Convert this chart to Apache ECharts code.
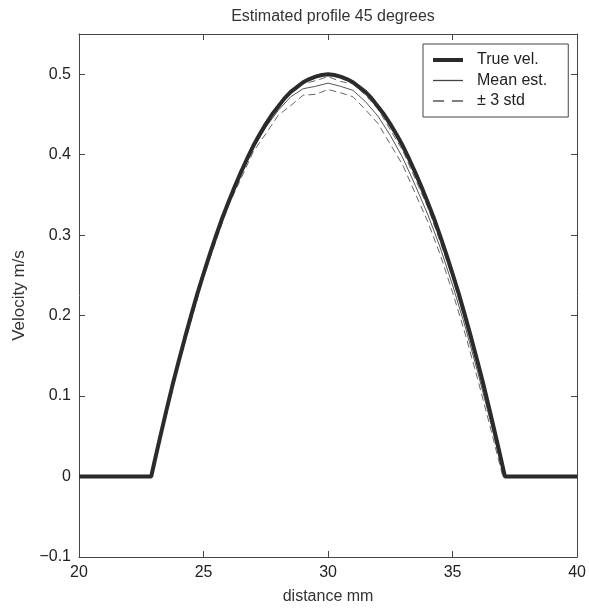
<!DOCTYPE html>
<html>
<head>
<meta charset="utf-8">
<script src="https://cdn.jsdelivr.net/npm/echarts@6/dist/echarts.min.js"></script>
<style>html,body{margin:0;padding:0;background:#fff;}#c{width:589px;height:610px;}</style>
</head>
<body>
<div id="c"></div>
<script>
var titleText = "Estimated profile 45 degrees";
var xName = "distance mm";
var yName = "Velocity m/s";
var seriesNames = ["True vel.", "Mean est.", "\u00b1 3 std"];

var xTrue = [20, 22.9, 23, 23.25, 23.5, 23.75, 24, 24.25, 24.5, 24.75, 25, 25.25, 25.5, 25.75, 26, 26.25, 26.5, 26.75, 27, 27.25, 27.5, 27.75, 28, 28.25, 28.5, 28.75, 29, 29.25, 29.5, 29.75, 30,
             30.25, 30.5, 30.75, 31, 31.25, 31.5, 31.75, 32, 32.25, 32.5, 32.75, 33, 33.25, 33.5, 33.75, 34, 34.25, 34.5, 34.75, 35, 35.25, 35.5, 35.75, 36, 36.25, 36.5, 36.75, 37, 37.1, 40];
var yTrue = [0, 0, 0.014, 0.048, 0.081, 0.113, 0.143, 0.172, 0.200, 0.227, 0.252, 0.276, 0.299, 0.321, 0.341, 0.360, 0.378, 0.395, 0.411, 0.425, 0.438, 0.450, 0.460, 0.470, 0.478, 0.484, 0.490, 0.494, 0.497, 0.499, 0.500,
             0.499, 0.497, 0.494, 0.490, 0.484, 0.478, 0.470, 0.460, 0.450, 0.438, 0.425, 0.411, 0.395, 0.378, 0.360, 0.341, 0.321, 0.299, 0.276, 0.252, 0.227, 0.200, 0.172, 0.143, 0.113, 0.081, 0.048, 0.014, 0, 0];

var xEst = [20, 22.9, 23.5, 24, 24.5, 25, 25.5, 26, 26.5, 27, 27.5, 28, 28.5, 29, 29.5, 30, 30.5, 31, 31.5, 32, 32.5, 33, 33.5, 34, 34.5, 35, 35.5, 36, 36.5, 37, 37.1, 40];
var yMean = [0, 0, 0.080, 0.142, 0.199, 0.251, 0.298, 0.340, 0.376, 0.408, 0.434, 0.455, 0.472, 0.482, 0.485, 0.489, 0.485, 0.480, 0.466, 0.448, 0.424, 0.396, 0.362, 0.326, 0.285, 0.238, 0.187, 0.131, 0.071, 0.008, 0, 0];
var yUpper = [0, 0, 0.084, 0.145, 0.204, 0.254, 0.303, 0.343, 0.382, 0.413, 0.441, 0.461, 0.479, 0.488, 0.492, 0.497, 0.491, 0.488, 0.474, 0.457, 0.431, 0.405, 0.370, 0.335, 0.292, 0.247, 0.194, 0.140, 0.077, 0.014, 0, 0];
var yLower = [0, 0, 0.075, 0.139, 0.194, 0.248, 0.293, 0.337, 0.370, 0.404, 0.426, 0.449, 0.461, 0.474, 0.475, 0.481, 0.477, 0.472, 0.456, 0.439, 0.413, 0.387, 0.352, 0.317, 0.276, 0.229, 0.178, 0.122, 0.063, 0.002, 0, 0];

function pairs(xs, ys) { return xs.map(function (x, i) { return [x, ys[i]]; }); }

var axisColor = '#444';
var fontFam = 'Liberation Sans, Arial, sans-serif';
function fmt(v) {
  var s = (Math.round(v * 100) / 100).toString();
  return s.replace('-', '\u2212');
}

var chart = echarts.init(document.getElementById('c'), null, { renderer: 'canvas' });
chart.setOption({
  animation: false,
  backgroundColor: '#fff',
  title: {
    text: titleText, left: 328, top: 4, textAlign: 'center',
    textStyle: { fontSize: 16, fontWeight: 'normal', color: '#333', fontFamily: fontFam }
  },
  legend: {
    orient: 'vertical', left: 423, top: 44,
    backgroundColor: '#fff', borderColor: axisColor, borderWidth: 1,
    padding: [8, 21, 8, 10], itemGap: 4.5, itemWidth: 30, itemHeight: 14,
    textStyle: { fontSize: 16, color: '#222', fontFamily: fontFam, padding: [0, 0, 0, 9] },
    data: [
      { name: seriesNames[0], icon: 'path://M0,0 L30,0 L30,4 L0,4 Z' },
      { name: seriesNames[1], icon: 'path://M0,0 L30,0 L30,1.3 L0,1.3 Z' },
      { name: seriesNames[2], icon: 'path://M0,0 L10,0 L10,1.3 L0,1.3 Z M17,0 L27,0 L27,1.3 L17,1.3 Z' }
    ]
  },
  grid: { left: 79, right: 11, top: 34, bottom: 52, containLabel: false },
  xAxis: [{
    type: 'value', min: 20, max: 40, interval: 5, position: 'bottom',
    name: xName, nameLocation: 'middle', nameGap: 32,
    nameTextStyle: { fontSize: 16, color: '#333', fontFamily: fontFam },
    axisLine: { onZero: false, lineStyle: { color: axisColor, width: 1 } },
    axisTick: { inside: true, length: 6, lineStyle: { color: axisColor } },
    axisLabel: { fontSize: 16, color: '#222', margin: 8, fontFamily: fontFam },
    splitLine: { show: false }
  }, {
    type: 'value', min: 20, max: 40, interval: 5, position: 'top',
    axisLine: { onZero: false, lineStyle: { color: axisColor, width: 1 } },
    axisTick: { inside: true, length: 6, lineStyle: { color: axisColor } },
    axisLabel: { show: false }, splitLine: { show: false }
  }],
  yAxis: [{
    type: 'value', min: -0.1, max: 0.55, interval: 0.1, position: 'left',
    name: yName, nameLocation: 'middle', nameGap: 51, nameRotate: 90,
    nameTextStyle: { fontSize: 17, color: '#333', fontFamily: fontFam },
    axisLine: { onZero: false, lineStyle: { color: axisColor, width: 1 } },
    axisTick: { inside: true, length: 6, lineStyle: { color: axisColor } },
    axisLabel: { fontSize: 16, color: '#222', margin: 8, fontFamily: fontFam, showMaxLabel: false, formatter: fmt },
    splitLine: { show: false }
  }, {
    type: 'value', min: -0.1, max: 0.55, interval: 0.1, position: 'right',
    axisLine: { onZero: false, lineStyle: { color: axisColor, width: 1 } },
    axisTick: { inside: true, length: 6, lineStyle: { color: axisColor } },
    axisLabel: { show: false }, splitLine: { show: false }
  }],
  series: [
    {
      name: seriesNames[2], type: 'line', data: pairs(xEst, yUpper), symbol: 'none',
      lineStyle: { color: '#666', width: 1, type: [7, 4] }, itemStyle: { color: '#555' }, z: 2
    },
    {
      name: seriesNames[2], type: 'line', data: pairs(xEst, yLower), symbol: 'none',
      lineStyle: { color: '#666', width: 1, type: [7, 4] }, itemStyle: { color: '#555' }, z: 2
    },
    {
      name: seriesNames[1], type: 'line', data: pairs(xEst, yMean), symbol: 'none',
      lineStyle: { color: '#555', width: 1 }, itemStyle: { color: '#444' }, z: 3
    },
    {
      name: seriesNames[0], type: 'line', data: pairs(xTrue, yTrue), symbol: 'none',
      lineStyle: { color: '#2b2b2b', width: 4 }, itemStyle: { color: '#2b2b2b' }, z: 4
    }
  ]
});
</script>
</body>
</html>
